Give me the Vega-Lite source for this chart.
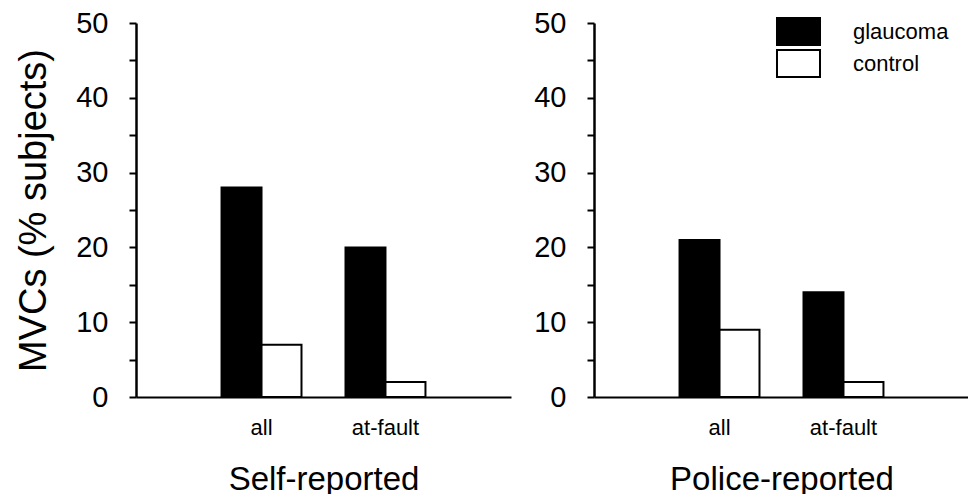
{
  "$schema": "https://vega.github.io/schema/vega-lite/v6.json",
  "padding": {"left": 15, "top": 9, "right": 0, "bottom": 0},
  "background": "white",
  "config": {
    "view": {"stroke": null},
    "font": "Liberation Sans",
    "axis": {
      "grid": false,
      "domainColor": "black",
      "tickColor": "black",
      "labelColor": "black",
      "titleColor": "black",
      "titleFontWeight": "normal",
      "labelFont": "Liberation Sans",
      "titleFont": "Liberation Sans"
    }
  },
  "data": {
    "values": [
      {"panel": "Self-reported", "event": "all", "group": "glaucoma", "value": 28},
      {"panel": "Self-reported", "event": "all", "group": "control", "value": 7},
      {"panel": "Self-reported", "event": "at-fault", "group": "glaucoma", "value": 20},
      {"panel": "Self-reported", "event": "at-fault", "group": "control", "value": 2},
      {"panel": "Police-reported", "event": "all", "group": "glaucoma", "value": 21},
      {"panel": "Police-reported", "event": "all", "group": "control", "value": 9},
      {"panel": "Police-reported", "event": "at-fault", "group": "glaucoma", "value": 14},
      {"panel": "Police-reported", "event": "at-fault", "group": "control", "value": 2}
    ]
  },
  "bounds": "flush",
  "spacing": 83,
  "resolve": {"scale": {"fill": "shared"}, "legend": {"fill": "independent"}},
  "hconcat": [
    {
      "width": 375,
      "height": 374,
      "transform": [{"filter": "datum.panel == 'Self-reported'"}],
      "mark": {"type": "bar", "stroke": "black", "strokeWidth": 2},
      "encoding": {
        "x": {
          "field": "event", "type": "nominal", "sort": ["all", "at-fault"],
          "scale": {"paddingInner": 0.355, "paddingOuter": 0.69},
          "axis": {"title": "Self-reported", "labelAngle": 0, "ticks": false, "tickSize": 0, "domainWidth": 2, "labelFontSize": 22, "labelPadding": 20, "titleFontSize": 33, "titlePadding": 25}
        },
        "xOffset": {"field": "group", "type": "nominal", "sort": ["glaucoma", "control"], "scale": {"paddingInner": 0, "paddingOuter": 0}},
        "y": {
          "field": "value", "type": "quantitative",
          "scale": {"domain": [0, 50], "nice": false},
          "axis": {"title": "MVCs (% subjects)", "values": [0, 5, 10, 15, 20, 25, 30, 35, 40, 45, 50], "labelExpr": "datum.value % 10 == 0 ? datum.label : ''", "tickSize": 7, "tickWidth": 2, "domainWidth": 2.5, "labelFontSize": 29, "labelPadding": 21, "titleFontSize": 38, "titlePadding": 22}
        },
        "fill": {"field": "group", "type": "nominal", "scale": {"domain": ["glaucoma", "control"], "range": ["black", "white"]}, "legend": null}
      }
    },
    {
      "width": 375,
      "height": 374,
      "transform": [{"filter": "datum.panel == 'Police-reported'"}],
      "mark": {"type": "bar", "stroke": "black", "strokeWidth": 2},
      "encoding": {
        "x": {
          "field": "event", "type": "nominal", "sort": ["all", "at-fault"],
          "scale": {"paddingInner": 0.355, "paddingOuter": 0.69},
          "axis": {"title": "Police-reported", "labelAngle": 0, "ticks": false, "tickSize": 0, "domainWidth": 2, "labelFontSize": 22, "labelPadding": 20, "titleFontSize": 33, "titlePadding": 25}
        },
        "xOffset": {"field": "group", "type": "nominal", "sort": ["glaucoma", "control"], "scale": {"paddingInner": 0, "paddingOuter": 0}},
        "y": {
          "field": "value", "type": "quantitative",
          "scale": {"domain": [0, 50], "nice": false},
          "axis": {"title": null, "values": [0, 5, 10, 15, 20, 25, 30, 35, 40, 45, 50], "labelExpr": "datum.value % 10 == 0 ? datum.label : ''", "tickSize": 7, "tickWidth": 2, "domainWidth": 2.5, "labelFontSize": 29, "labelPadding": 21}
        },
        "fill": {
          "field": "group", "type": "nominal",
          "scale": {"domain": ["glaucoma", "control"], "range": ["black", "white"]},
          "legend": {"title": null, "orient": "none", "legendX": 190, "legendY": -6, "padding": 0, "symbolType": "M-1.593,-1H1.593V1H-1.593Z", "symbolSize": 729, "symbolStrokeColor": "black", "symbolStrokeWidth": 2, "labelFontSize": 22, "labelColor": "black", "labelOffset": 40, "rowPadding": -3}
        }
      }
    }
  ]
}
